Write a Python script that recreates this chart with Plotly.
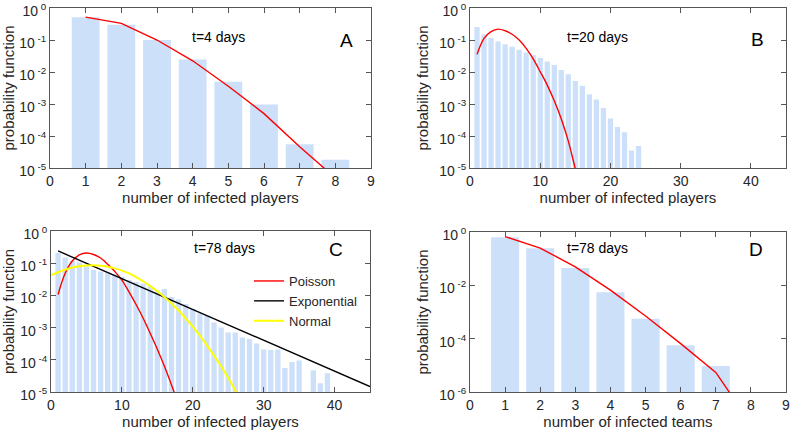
import plotly.graph_objects as go
from plotly.subplots import make_subplots

# panel A: t=4 days, infected players
a_x = [1, 2, 3, 4, 5, 6, 7, 8]
a_bars = [0.51, 0.30, 0.10, 0.0245, 0.005, 0.00097, 5.5e-5, 1.8e-5]
a_fit = [0.52, 0.33, 0.10, 0.0224, 0.0036, 5.0e-4, 4.6e-5, 4.9e-6]

# panel B: t=20 days, infected players
b_x = list(range(1, 25))
b_bars = [0.257, 0.148, 0.115, 0.089, 0.073, 0.062, 0.050, 0.041, 0.034, 0.028,
          0.0214, 0.0166, 0.0115, 0.0085, 0.0052, 0.0037, 0.0020, 0.00138,
          0.00075, 0.000355, 0.00019, 0.000132, 3.5e-5, 4.9e-5]
b_fit_x = list(range(1, 17))
b_fit = [0.0355, 0.112, 0.182, 0.219, 0.195, 0.151, 0.100, 0.055, 0.0257,
         0.0102, 0.0039, 0.00126, 0.00034, 6.9e-5, 9.5e-6, 1.6e-6]

# panel C: t=78 days, infected players
c_x = list(range(1, 40))
c_bars = [0.207, 0.151, 0.117, 0.105, 0.079, 0.062, 0.055, 0.052, 0.045, 0.038,
          0.030, 0.026, 0.0234, 0.020, 0.0145, 0.0158, 0.0089, 0.0074, 0.0054,
          0.0038, 0.0028, 0.00234, 0.00145, 0.0010, 0.00071, 0.00071, 0.00049,
          0.00044, 0.00032, 0.00021, 0.0002, 0.00021, 5.6e-5, 8.5e-5, 9.5e-5,
          None, 4.7e-5, 1.86e-5, 3.8e-5]
c_poisson_x = list(range(1, 19))
c_poisson = [0.0107, 0.049, 0.117, 0.182, 0.207, 0.186, 0.145, 0.093, 0.055,
             0.030, 0.0129, 0.0052, 0.00195, 0.00066, 0.000214, 6.3e-5,
             1.66e-5, 4.0e-6]
c_exp_x = [1, 45]
c_exp = [0.24, 1.48e-5]
c_normal_x = list(range(0, 28))
c_normal = [0.0427, 0.0525, 0.063, 0.074, 0.081, 0.085, 0.087, 0.083, 0.078,
            0.069, 0.059, 0.048, 0.037, 0.0275, 0.0195, 0.0135, 0.0089, 0.0056,
            0.0034, 0.00195, 0.00107, 0.00056, 0.00028, 0.000135, 6.3e-5,
            2.75e-5, 1.12e-5, 4.5e-6]

# panel D: t=78 days, infected teams
d_x = [1, 2, 3, 4, 5, 6, 7]
d_bars = [0.63, 0.245, 0.045, 0.0055, 5.6e-4, 5.7e-5, 9.5e-6]
d_fit_x = [1, 2, 3, 4, 5, 6, 7, 8]
d_fit = [0.67, 0.25, 0.049, 0.0066, 7.1e-4, 6.5e-5, 5.4e-6, 6.5e-8]

bar_col = "#cce0fa"
txt_col = "#262626"
font = "Liberation Sans, Arial, sans-serif"

fig = make_subplots(rows=2, cols=2)

fig.add_trace(go.Bar(x=a_x, y=a_bars, width=0.78, marker=dict(color=bar_col, line_width=0),
                     showlegend=False), row=1, col=1)
fig.add_trace(go.Scatter(x=a_x, y=a_fit, mode="lines", line=dict(color="red", width=1.4),
                         showlegend=False), row=1, col=1)

fig.add_trace(go.Bar(x=b_x, y=b_bars, width=0.75, marker=dict(color=bar_col, line_width=0),
                     showlegend=False), row=1, col=2)
fig.add_trace(go.Scatter(x=b_fit_x, y=b_fit, mode="lines", line=dict(color="red", width=1.4, shape="spline"),
                         showlegend=False), row=1, col=2)

fig.add_trace(go.Bar(x=c_x, y=c_bars, width=0.75, marker=dict(color=bar_col, line_width=0),
                     showlegend=False), row=2, col=1)
fig.add_trace(go.Scatter(x=c_poisson_x, y=c_poisson, mode="lines", name="Poisson",
                         line=dict(color="red", width=1.4, shape="spline")), row=2, col=1)
fig.add_trace(go.Scatter(x=c_exp_x, y=c_exp, mode="lines", name="Exponential",
                         line=dict(color="black", width=1.4)), row=2, col=1)
fig.add_trace(go.Scatter(x=c_normal_x, y=c_normal, mode="lines", name="Normal",
                         line=dict(color="#ffff00", width=2, shape="spline")), row=2, col=1)

fig.add_trace(go.Bar(x=d_x, y=d_bars, width=0.8, marker=dict(color=bar_col, line_width=0),
                     showlegend=False), row=2, col=2)
fig.add_trace(go.Scatter(x=d_fit_x, y=d_fit, mode="lines", line=dict(color="red", width=1.4),
                         showlegend=False), row=2, col=2)

W, H = 791, 433


def fx(px):
    return px / W


def fy(py):
    return 1 - py / H


dom_x = {1: [fx(50), fx(371)], 2: [fx(470), fx(786)], 3: [fx(51), fx(370)], 4: [fx(470), fx(786)]}
dom_y = {1: [fy(168), fy(8)], 2: [fy(168), fy(8)],
         3: [fy(392), fy(231)], 4: [fy(392), fy(232)]}

axis_common = dict(showline=True, linecolor="#555555", linewidth=1, mirror="ticks",
                   ticks="inside", ticklen=5, tickcolor="#555555", showgrid=False,
                   zeroline=False, automargin=False, ticklabeloverflow="allow",
                   tickfont=dict(size=14, color=txt_col, family=font),
                   title_font=dict(size=15, color=txt_col, family=font))


def sup_ticks(exps):
    return [10.0 ** e for e in exps], ["10<sup> %d</sup>" % e for e in exps]


for i in range(1, 5):
    xa = "xaxis" if i == 1 else "xaxis%d" % i
    ya = "yaxis" if i == 1 else "yaxis%d" % i
    if i in (1, 4):
        xr, xt = [0, 9], list(range(0, 10))
    else:
        xr, xt = [0, 45], [0, 10, 20, 30, 40]
    if i == 4:
        tv, tt = sup_ticks([-6, -4, -2, 0])
        yr = [-6, 0]
    else:
        tv, tt = sup_ticks([-5, -4, -3, -2, -1, 0])
        yr = [-5, 0]
    xtitle = "number of infected teams" if i == 4 else "number of infected players"
    fig.layout[xa].update(domain=dom_x[i], range=xr, tickvals=xt, title_text=xtitle,
                          title_standoff=4, **axis_common)
    fig.layout[ya].update(domain=dom_y[i], type="log", range=yr, tickvals=tv, ticktext=tt,
                          ticklabelshift=3,
                          title_text="probability function", title_standoff=6, **axis_common)

# panel captions, pixel positions in the 791x433 picture
labels = [("t=4 days", 190, 27, "A", 346, 28),
          ("t=20 days", 630, 27, "B", 766, 27),
          ("t=78 days", 192, 248, "C", 336, 250),
          ("t=78 days", 630, 248, "D", 765, 250)]
for t, tx, ty, letter, lx, ly in labels:
    fig.add_annotation(xref="paper", yref="paper", x=fx(tx), y=fy(ty),
                       text=t, showarrow=False, font=dict(size=14, color="black", family=font))
    fig.add_annotation(xref="paper", yref="paper", x=fx(lx), y=fy(ly),
                       text=letter, showarrow=False, font=dict(size=19, color="black", family=font))

fig.update_layout(
    width=W, height=H,
    margin=dict(l=0, r=0, t=0, b=0),
    plot_bgcolor="white", paper_bgcolor="white",
    barmode="overlay",
    font=dict(family=font, color=txt_col),
    legend=dict(x=fx(249), y=fy(266), xanchor="left", yanchor="top",
                bgcolor="rgba(0,0,0,0)", font=dict(size=13, color=txt_col, family=font),
                tracegroupgap=0, itemwidth=30),
)

fig.write_html("out.html", config={"displayModeBar": False},
               post_script="document.body.style.margin='0';")
